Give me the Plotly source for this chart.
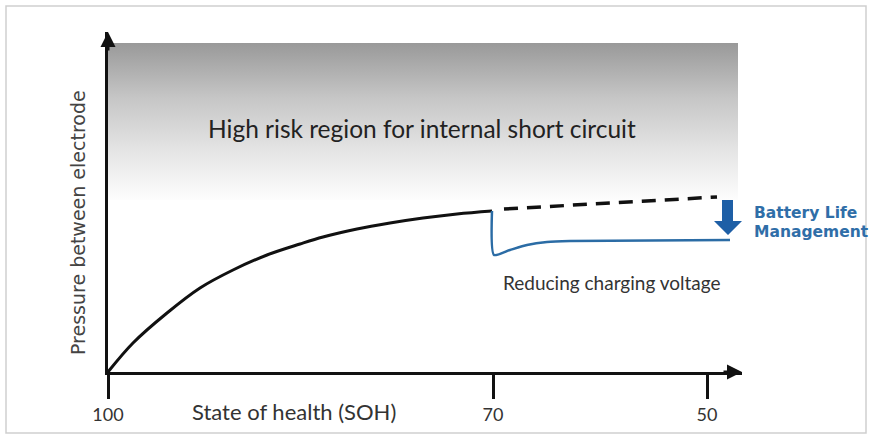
import plotly.graph_objects as go

# ---- data (schematic units: horizontal / vertical offset from the origin) ----
tick_pos = [0, 385, 599]
tick_labels = ["100", "70", "50"]

curve_x = [0, 25, 59, 92, 125, 159, 192, 215, 249, 282, 315, 349, 384]
curve_y = [0, 29, 59, 84, 102, 117, 128, 135, 143, 149, 154, 158, 161]

dash_x = [396, 609]
dash_y = [163, 175]

blue_x = [384, 386, 402, 419, 439, 462, 622]
blue_y = [161, 117, 122, 127, 130, 131, 132]

risk_x = [0, 630, 630, 0, 0]
risk_y = [172, 172, 329, 329, 172]

arrow_x = [614, 625, 625, 634, 620, 606, 614, 614]
arrow_y = [172, 172, 151, 151, 137, 151, 151, 172]

X_RANGE = [0, 634]
Y_RANGE = [0, 340]

W, H = 871, 437
ML, MR, MT, MB = 108, 129, 32, 65
PW, PH = W - ML - MR, H - MT - MB

def px(xpix):
    return (xpix - ML) / PW

def py(ypix):
    return (H - MB - ypix) / PH

fig = go.Figure()

# high risk gradient region
fig.add_trace(go.Scatter(
    x=risk_x, y=risk_y, mode="lines", line=dict(width=0),
    fill="toself",
    fillgradient=dict(type="vertical",
                      colorscale=[[0, "#999999"], [0.35, "#c6c6c6"],
                                  [0.7, "#e6e6e6"], [1, "#fdfdfd"]],
                      start=329, stop=172),
    hoverinfo="skip", showlegend=False))

# pressure curve
fig.add_trace(go.Scatter(x=curve_x, y=curve_y, mode="lines",
                         line=dict(color="#111111", width=3, shape="spline"),
                         showlegend=False))
# projected (dashed)
fig.add_trace(go.Scatter(x=dash_x, y=dash_y, mode="lines",
                         line=dict(color="#111111", width=3.5, dash="14px,9px"),
                         showlegend=False))
# reduced charging voltage curve
fig.add_trace(go.Scatter(x=blue_x, y=blue_y, mode="lines",
                         line=dict(color="#2b6ca5", width=2.5, shape="spline",
                                   smoothing=0.6),
                         showlegend=False))
# down arrow
fig.add_trace(go.Scatter(x=arrow_x, y=arrow_y, mode="lines", fill="toself",
                         fillcolor="#1e5fa6", line=dict(width=0, color="#1e5fa6"),
                         showlegend=False))

annotations = [
    dict(x=314, y=244, xref="x", yref="y", text="High risk region for internal short circuit",
         showarrow=False, font=dict(family="Lato", size=24.5, color="#222222")),
    dict(x=503, y=90, xref="x", yref="y", text="Reducing charging voltage",
         showarrow=False, font=dict(family="Lato", size=19, color="#333333")),
    dict(x=px(752), y=py(213), xref="paper", yref="paper", text="<b>Battery Life</b>",
         xanchor="left", yanchor="middle", showarrow=False,
         font=dict(family="DejaVu Sans", size=15.5, color="#2f6ea8")),
    dict(x=px(752), y=py(232), xref="paper", yref="paper", text="<b>Management</b>",
         xanchor="left", yanchor="middle", showarrow=False,
         font=dict(family="DejaVu Sans", size=15.5, color="#2f6ea8")),
    dict(x=px(294), y=py(411), xref="paper", yref="paper", text="State of health (SOH)",
         xanchor="center", yanchor="middle", showarrow=False,
         font=dict(family="Lato", size=22, color="#333333")),
    dict(x=px(78), y=py(223), xref="paper", yref="paper", text="Pressure between electrode",
         xanchor="center", yanchor="middle", textangle=-90, showarrow=False,
         font=dict(family="DejaVu Sans", size=19, color="#444444")),
    # axis arrow heads
    dict(x=X_RANGE[1], y=0, xref="x", yref="y", ax=-20, ay=0,
         text="", showarrow=True, arrowhead=2, arrowsize=1, arrowwidth=3,
         arrowcolor="#111111"),
    dict(x=0, y=Y_RANGE[1], xref="x", yref="y", ax=0, ay=20,
         text="", showarrow=True, arrowhead=2, arrowsize=1, arrowwidth=3,
         arrowcolor="#111111"),
]

fig.update_layout(
    width=W, height=H,
    margin=dict(l=ML, r=MR, t=MT, b=MB, pad=0),
    paper_bgcolor="white", plot_bgcolor="white",
    showlegend=False,
    annotations=annotations,
    shapes=[dict(type="rect", xref="paper", yref="paper",
                 x0=px(6), x1=px(866), y0=py(433), y1=py(6),
                 line=dict(color="#cfcfcf", width=1.5), layer="below")],
    xaxis=dict(range=X_RANGE, showgrid=False, zeroline=False,
               showline=True, linecolor="#111111", linewidth=3,
               tickmode="array", tickvals=tick_pos, ticktext=tick_labels,
               ticks="outside", ticklen=24, tickwidth=2.5, tickcolor="#111111",
               tickfont=dict(family="Lato", size=18, color="#333333")),
    yaxis=dict(range=Y_RANGE, showgrid=False, zeroline=False,
               showline=True, linecolor="#111111", linewidth=3,
               showticklabels=False, ticks=""),
)

fig.write_html("out.html", config={"displayModeBar": False},
               post_script="document.body.style.margin='0';document.body.style.overflow='hidden';")
